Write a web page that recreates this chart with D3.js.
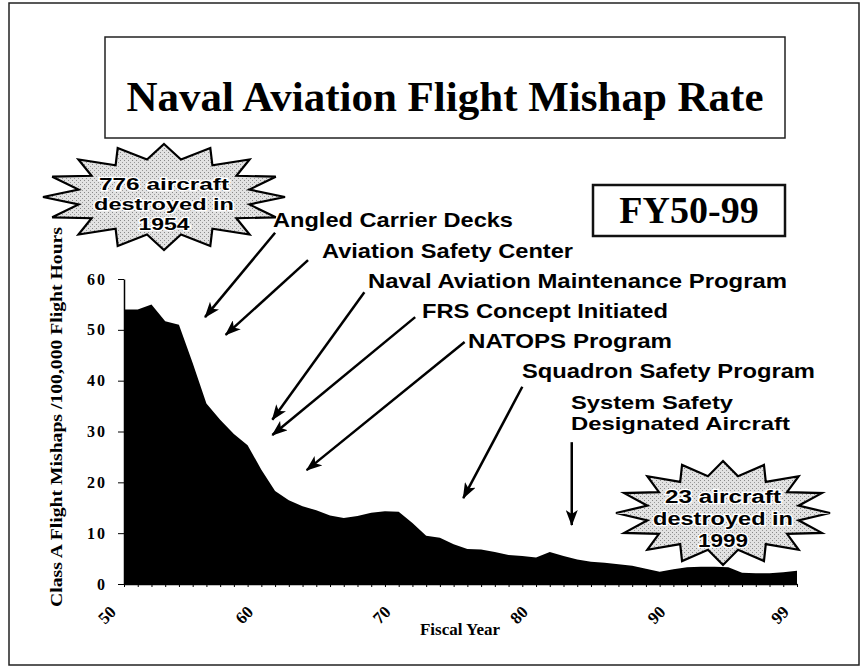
<!DOCTYPE html>
<html>
<head>
  <meta charset="utf-8">
  <script src="https://cdnjs.cloudflare.com/ajax/libs/d3/7.8.5/d3.min.js"></script>
  <style type="text/css">
    body { margin: 0; background: #fff; }
    .serif { font-family: "Liberation Serif", "Times New Roman", serif; font-weight: bold; }
    .sans { font-family: "Liberation Sans", Arial, sans-serif; font-weight: bold; }
  </style>
</head>
<body>
<script type="text/javascript">
  // Data
  var years = [50, 51, 52, 53, 54, 55, 56, 57, 58, 59,
               60, 61, 62, 63, 64, 65, 66, 67, 68, 69,
               70, 71, 72, 73, 74, 75, 76, 77, 78, 79,
               80, 81, 82, 83, 84, 85, 86, 87, 88, 89,
               90, 91, 92, 93, 94, 95, 96, 97, 98, 99];
  var rates = [54.0, 54.0, 55.0, 51.7, 51.0, 43.5, 35.5, 32.3, 29.5, 27.3,
               22.5, 18.3, 16.5, 15.3, 14.5, 13.5, 13.0, 13.4, 14.0, 14.3,
               14.2, 12.0, 9.5, 9.1, 7.8, 6.9, 6.8, 6.3, 5.7, 5.5,
               5.2, 6.3, 5.5, 4.8, 4.4, 4.2, 3.9, 3.6, 3.0, 2.4,
               2.9, 3.3, 3.4, 3.4, 3.3, 2.2, 2.1, 2.1, 2.3, 2.6];
  var yTicks = [0, 10, 20, 30, 40, 50, 60];
  var xLabels = [50, 60, 70, 80, 90, 99];

  // Milestones: label text and the [year, rate] the arrow starts from / points at
  var milestoneText = ["Angled Carrier Decks", "Aviation Safety Center",
                       "Naval Aviation Maintenance Program", "FRS Concept Initiated",
                       "NATOPS Program", "Squadron Safety Program"];
  var arrowFrom = [[61.0, 69.1], [63.4, 63.7], [67.5, 57.4], [71.2, 52.5], [74.8, 47.6], [79.0, 38.8], [82.6, 27.9]];
  var arrowTo   = [[55.9, 52.5], [57.4, 49.0], [60.8, 32.3], [60.8, 29.3], [63.3, 22.4], [74.7, 16.9], [82.6, 11.6]];
  var systemText = ["System Safety", "Designated Aircraft"];
  var burst1954 = ["776 aircraft", "destroyed in", "1954"];
  var burst1999 = ["23 aircraft", "destroyed in", "1999"];

  // layout
  var W = 868, H = 667;
  var milestonePos = [[273, 227, 240], [322, 258, 251], [368, 288, 419],
                      [422, 318, 246], [468, 348, 204], [522, 378, 293]];

  var svg = d3.select("body").append("svg")
      .attr("width", W).attr("height", H);

  //stipple for the starbursts
  var defs = svg.append("defs");
  var pat = defs.append("pattern").attr("id", "stip")
      .attr("width", 4).attr("height", 4).attr("patternUnits", "userSpaceOnUse");
  pat.append("rect").attr("width", 4).attr("height", 4).attr("fill", "#e2e2e2");
  pat.append("rect").attr("x", 0).attr("y", 0).attr("width", 1).attr("height", 1).attr("fill", "#888");
  pat.append("rect").attr("x", 2).attr("y", 2).attr("width", 1).attr("height", 1).attr("fill", "#999");
  defs.append("marker").attr("id", "head")
      .attr("markerUnits", "userSpaceOnUse")
      .attr("viewBox", "0 0 16 12").attr("refX", 15).attr("refY", 6)
      .attr("markerWidth", 16).attr("markerHeight", 12)
      .attr("orient", "auto")
    .append("path").attr("d", "M0,0 L16,6 L0,12 L4,6 Z").attr("fill", "#000");

  // outer frame
  svg.append("rect").attr("x", 9).attr("y", 3).attr("width", 850).attr("height", 662)
      .attr("fill", "none").attr("stroke", "#222").attr("stroke-width", 1.5);

  // title box
  svg.append("rect").attr("x", 105).attr("y", 37).attr("width", 680).attr("height", 101)
      .attr("fill", "none").attr("stroke", "#222").attr("stroke-width", 1.5);
  svg.append("text").attr("class", "serif")
      .attr("x", 445).attr("y", 111).attr("text-anchor", "middle")
      .attr("font-size", 43)
      .text("Naval Aviation Flight Mishap Rate");

  // FY box
  svg.append("rect").attr("x", 593).attr("y", 185).attr("width", 192).attr("height", 51)
      .attr("fill", "none").attr("stroke", "#111").attr("stroke-width", 2.5);
  svg.append("text").attr("class", "serif")
      .attr("x", 689).attr("y", 223).attr("text-anchor", "middle")
      .attr("font-size", 38)
      .text("FY50-99");

  // scales
  var x = d3.scaleLinear().domain([50, 99]).range([124, 797]);
  var y = d3.scaleLinear().domain([0, 60]).range([584, 279]);

  // area
  var area = d3.area()
      .x(function(d, i) { return x(years[i]); })
      .y0(y(0))
      .y1(function(d) { return y(d); });
  svg.append("path").datum(rates)
      .attr("d", area)
      .attr("fill", "#000");

  // y axis
  var yAxis = svg.append("g").attr("transform", "translate(" + x(50) + ",0)")
      .call(d3.axisLeft(y).tickValues(yTicks).tickSize(6).tickSizeOuter(0).tickPadding(11));
  yAxis.selectAll("text").attr("class", "serif").attr("font-size", 16)
      .attr("letter-spacing", 2).attr("fill", "#000");
  yAxis.select(".domain").attr("stroke-width", 1.5);

  // x axis
  var xAxis = svg.append("g").attr("transform", "translate(0," + y(0) + ")")
      .call(d3.axisBottom(x).tickValues(years).tickSize(3).tickSizeOuter(0).tickFormat(""));
  xAxis.select(".domain").attr("stroke-width", 1.5);
  svg.append("g").selectAll("text").data(xLabels).enter().append("text")
      .attr("class", "serif").attr("font-size", 17)
      .attr("text-anchor", "middle")
      .attr("transform", function(d) {
        return "translate(" + (x(d) - 13) + "," + (y(0) + 35) + ") rotate(-45)";
      })
      .text(function(d) { return d; });

  svg.append("text").attr("class", "serif")
      .attr("x", 460).attr("y", 635).attr("text-anchor", "middle")
      .attr("font-size", 17)
      .text("Fiscal Year");

  svg.append("text").attr("class", "serif")
      .attr("transform", "translate(62,417) rotate(-90)")
      .attr("text-anchor", "middle")
      .attr("font-size", 16)
      .attr("textLength", 380).attr("lengthAdjust", "spacingAndGlyphs")
      .text("Class A Flight Mishaps /100,000 Flight Hours");

  // arrows
  svg.append("g").selectAll("line").data(arrowFrom).enter().append("line")
      .attr("x1", function(d) { return x(d[0]); })
      .attr("y1", function(d) { return y(d[1]); })
      .attr("x2", function(d, i) { return x(arrowTo[i][0]); })
      .attr("y2", function(d, i) { return y(arrowTo[i][1]); })
      .attr("stroke", "#000").attr("stroke-width", 2.5)
      .attr("marker-end", "url(#head)");

  // milestone labels
  svg.append("g").selectAll("text").data(milestoneText).enter().append("text")
      .attr("class", "sans").attr("font-size", 21)
      .attr("x", function(d, i) { return milestonePos[i][0]; })
      .attr("y", function(d, i) { return milestonePos[i][1]; })
      .attr("textLength", function(d, i) { return milestonePos[i][2]; })
      .attr("lengthAdjust", "spacingAndGlyphs")
      .text(function(d) { return d; });
  svg.append("text").attr("class", "sans").attr("font-size", 19)
      .attr("x", 571).attr("y", 409).attr("textLength", 162).attr("lengthAdjust", "spacingAndGlyphs")
      .text(systemText[0]);
  svg.append("text").attr("class", "sans").attr("font-size", 19)
      .attr("x", 571).attr("y", 430).attr("textLength", 219).attr("lengthAdjust", "spacingAndGlyphs")
      .text(systemText[1]);

  // starbursts
  function starPath(cx, cy, rx, ry, n, k) {
    var pts = [];
    for (var i = 0; i < 2 * n; i++) {
      var a = -Math.PI / 2 + i * Math.PI / n;
      var r = (i % 2) ? k : 1;
      pts.push([cx + rx * r * Math.cos(a), cy + ry * r * Math.sin(a)]);
    }
    return d3.line()(pts) + "Z";
  }

  function burst(cx, cy, rx, ry, lines, widths, lineGap, firstBase, fs) {
    var g = svg.append("g");
    g.append("path").attr("d", starPath(cx, cy, rx, ry, 16, 0.72))
        .attr("fill", "url(#stip)").attr("stroke", "#000").attr("stroke-width", 2.2)
        .attr("stroke-linejoin", "miter");
    g.selectAll("text").data(lines).enter().append("text")
        .attr("class", "sans").attr("font-size", fs)
        .attr("x", cx).attr("y", function(d, i) { return firstBase + i * lineGap; })
        .attr("text-anchor", "middle")
        .attr("textLength", function(d, i) { return widths[i]; })
        .attr("lengthAdjust", "spacingAndGlyphs")
        .attr("stroke", "#fff").attr("stroke-width", 2.5).attr("paint-order", "stroke")
        .attr("fill", "#000")
        .text(function(d) { return d; });
  }
  burst(164, 197, 121, 53, burst1954, [130, 140, 51], 20, 190, 17);
  burst(723, 513, 107, 52, burst1999, [116, 140, 50], 22, 503, 18);
</script>
</body>
</html>
